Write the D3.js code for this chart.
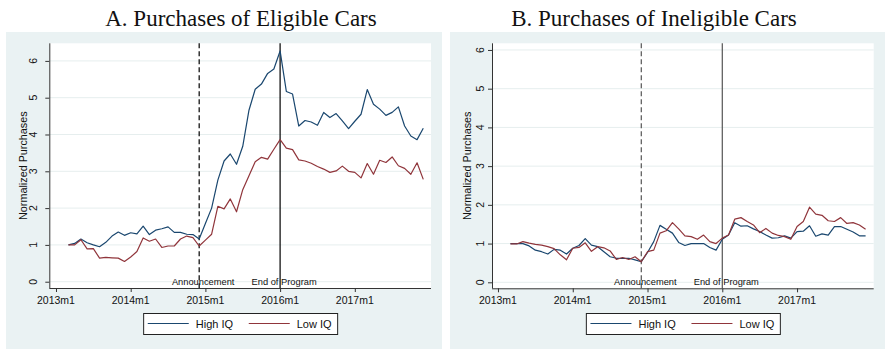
<!DOCTYPE html>
<html><head><meta charset="utf-8">
<script src="https://cdn.jsdelivr.net/npm/d3@7"></script>
<style>body{margin:0;background:#fff}svg{display:block}</style>
</head><body>
<svg id="chart" width="894" height="358"></svg>
<script>
// ---------- DATA ----------
const months = ["2013m3","2013m4","2013m5","2013m6","2013m7","2013m8","2013m9","2013m10","2013m11","2013m12",
"2014m1","2014m2","2014m3","2014m4","2014m5","2014m6","2014m7","2014m8","2014m9","2014m10","2014m11","2014m12",
"2015m1","2015m2","2015m3","2015m4","2015m5","2015m6","2015m7","2015m8","2015m9","2015m10","2015m11","2015m12",
"2016m1","2016m2","2016m3","2016m4","2016m5","2016m6","2016m7","2016m8","2016m9","2016m10","2016m11","2016m12",
"2017m1","2017m2","2017m3","2017m4","2017m5","2017m6","2017m7","2017m8","2017m9","2017m10","2017m11","2017m12"];
const eligibleHigh = [1.0,1.04,1.16,1.06,1.0,0.95,1.07,1.24,1.35,1.26,
1.33,1.3,1.51,1.28,1.40,1.44,1.49,1.34,1.34,1.29,
1.28,1.16,1.58,2.0,2.76,3.28,3.47,3.19,3.68,4.66,
5.23,5.37,5.66,5.78,6.27,5.17,5.1,4.23,4.38,4.34,
4.25,4.6,4.46,4.57,4.37,4.16,4.36,4.55,5.22,4.82,
4.69,4.52,4.6,4.75,4.23,3.96,3.86,4.17];
const eligibleLow = [1.0,1.0,1.14,0.89,0.9,0.64,0.66,0.65,0.64,0.55,
0.67,0.82,1.19,1.1,1.16,0.93,0.97,0.97,1.16,1.24,
1.2,0.97,1.13,1.29,2.05,1.98,2.25,1.9,2.5,2.88,
3.26,3.38,3.33,3.6,3.86,3.63,3.59,3.31,3.28,3.22,
3.13,3.06,2.97,3.01,3.14,3.0,2.97,2.82,3.21,2.92,
3.3,3.24,3.39,3.15,3.08,2.92,3.23,2.78];
const ineligibleHigh = [1.0,1.0,1.0,0.94,0.83,0.79,0.73,0.85,0.83,0.73,
0.88,0.95,1.13,0.96,0.92,0.79,0.66,0.62,0.62,0.62,
0.58,0.53,0.77,1.05,1.47,1.37,1.27,1.03,0.95,1.0,
1.0,1.0,0.9,0.83,1.11,1.22,1.54,1.45,1.46,1.38,
1.31,1.22,1.14,1.15,1.2,1.14,1.31,1.32,1.46,1.19,
1.25,1.22,1.44,1.44,1.37,1.3,1.2,1.2];
const ineligibleLow = [0.99,0.99,1.05,1.01,0.98,0.96,0.92,0.87,0.71,0.58,
0.88,0.9,1.02,0.8,0.92,0.89,0.81,0.59,0.64,0.59,
0.66,0.53,0.79,0.83,1.27,1.33,1.54,1.38,1.2,1.18,
1.11,1.22,1.05,1.0,1.14,1.22,1.63,1.67,1.57,1.48,
1.28,1.39,1.27,1.21,1.18,1.11,1.44,1.57,1.94,1.76,
1.73,1.59,1.57,1.67,1.52,1.54,1.48,1.37];
const xTickLabels = ["2013m1","2014m1","2015m1","2016m1","2017m1"];
const yTicks = [0,1,2,3,4,5,6];
const eventMonths = ["2014m12","2016m1"];
const eventLabels = ["Announcement","End of Program"];
const seriesNames = ["High IQ","Low IQ"];
const panelTitles = ["A. Purchases of Eligible Cars","B. Purchases of Ineligible Cars"];
const yTitle = "Normalized Purchases";

// ---------- LAYOUT ----------
const colors = ["#1A476F","#90353B"];
const mIndex = s => { const [y,m] = s.split("m").map(Number); return (y-2013)*12 + (m-1); };
const panels = [
  {title:panelTitles[0], titleX:241, bg:[6,32,442,349], left:49.3, right:431, top:43.3, bottom:288,
   xDom:[-1.076,60.24], yDom:[-0.171,6.478], series:[eligibleHigh,eligibleLow], vcol:"#000", tickLabOff:16, yTitleX:23.3},
  {title:panelTitles[1], titleX:654, bg:[450,32,885,349], left:492, right:873.7, top:43.3, bottom:288.3,
   xDom:[-0.96,60.3], yDom:[-0.155,6.172], series:[ineligibleHigh,ineligibleLow], vcol:"#555", tickLabOff:12, yTitleX:467}
];
const svg = d3.select("#chart");
const sans = "Liberation Sans, Arial, sans-serif";

panels.forEach(p => {
  const g = svg.append("g");
  g.append("rect").attr("x",p.bg[0]).attr("y",p.bg[1]).attr("width",p.bg[2]-p.bg[0]).attr("height",p.bg[3]-p.bg[1]).attr("fill","#EAF2F3");
  g.append("text").attr("x",p.titleX).attr("y",26).attr("text-anchor","middle")
    .attr("font-family","Liberation Serif, Times New Roman, serif").attr("font-size",23).attr("fill","#111").text(p.title);
  g.append("rect").attr("x",p.left).attr("y",p.top).attr("width",p.right-p.left).attr("height",p.bottom-p.top).attr("fill","#fff");

  const x = d3.scaleLinear().domain(p.xDom).range([p.left,p.right]);
  const y = d3.scaleLinear().domain(p.yDom).range([p.bottom,p.top]);

  // gridlines
  g.selectAll(".grid").data(yTicks).join("line")
    .attr("x1",p.left).attr("x2",p.right).attr("y1",d=>y(d)).attr("y2",d=>y(d))
    .attr("stroke","#E6EEEE").attr("stroke-width",1);

  // y axis
  const ya = g.append("g").attr("transform",`translate(${p.left},0)`)
    .call(d3.axisLeft(y).tickValues(yTicks).tickSize(4).tickFormat(""));
  ya.select(".domain").attr("stroke","#333").attr("d",`M0.5,${p.top}V${p.bottom}`);
  ya.selectAll(".tick line").attr("stroke","#333");
  g.selectAll(".ylab").data(yTicks).join("text")
    .attr("transform",d=>`translate(${p.left-p.tickLabOff},${y(d)}) rotate(-90)`)
    .attr("text-anchor","middle").attr("dy","0.36em")
    .attr("font-family",sans).attr("font-size",10.5).attr("fill","#111").text(d=>d);
  g.append("text").attr("transform",`translate(${p.yTitleX},${(p.top+p.bottom)/2}) rotate(-90)`)
    .attr("text-anchor","middle").attr("dy","0.36em")
    .attr("font-family",sans).attr("font-size",10.8).attr("fill","#111").text(yTitle);

  // x axis
  const xa = g.append("g").attr("transform",`translate(0,${p.bottom})`)
    .call(d3.axisBottom(x).tickValues(xTickLabels.map(mIndex)).tickSize(4).tickFormat(""));
  xa.select(".domain").attr("stroke","#333").attr("d",`M${p.left},0.5H${p.right}`);
  xa.selectAll(".tick line").attr("stroke","#333");
  g.selectAll(".xlab").data(xTickLabels).join("text")
    .attr("x",d=>x(mIndex(d))).attr("y",p.bottom+16).attr("text-anchor","middle")
    .attr("font-family",sans).attr("font-size",10.5).attr("fill","#111").text(d=>d);

  // event lines
  eventMonths.forEach((m,i) => {
    g.append("line").attr("x1",x(mIndex(m))).attr("x2",x(mIndex(m))).attr("y1",p.top).attr("y2",p.bottom)
      .attr("stroke",p.vcol).attr("stroke-width",1.2).attr("stroke-dasharray",i===0?"5,3":null);
    g.append("text").attr("x",x(mIndex(m))+4).attr("y",p.bottom-3).attr("text-anchor","middle")
      .attr("font-family",sans).attr("font-size",9.3).attr("fill","#111").text(eventLabels[i]);
  });

  // series
  const line = d3.line().x((d,i)=>x(mIndex(months[i]))).y(d=>y(d));
  p.series.forEach((s,k) => {
    g.append("path").datum(s).attr("d",line).attr("fill","none")
      .attr("stroke",colors[k]).attr("stroke-width",1.2).attr("stroke-linejoin","round");
  });

  // legend
  const cx = (p.left+p.right)/2, lw = 194, lh = 21, lx = cx-lw/2, ly = 313;
  const lg = g.append("g").attr("transform",`translate(${lx},${ly})`);
  lg.append("rect").attr("x",0.5).attr("y",0.5).attr("width",lw).attr("height",lh).attr("fill","#fff").attr("stroke","#222").attr("stroke-width",1);
  seriesNames.forEach((n,k) => {
    const ox = 4.6 + k*101;
    lg.append("line").attr("x1",ox).attr("x2",ox+41).attr("y1",10.5).attr("y2",10.5).attr("stroke",colors[k]).attr("stroke-width",1.2);
    lg.append("text").attr("x",ox+48).attr("y",14.5).attr("font-family",sans).attr("font-size",11).attr("fill","#111").text(n);
  });
});
</script>
</body></html>
